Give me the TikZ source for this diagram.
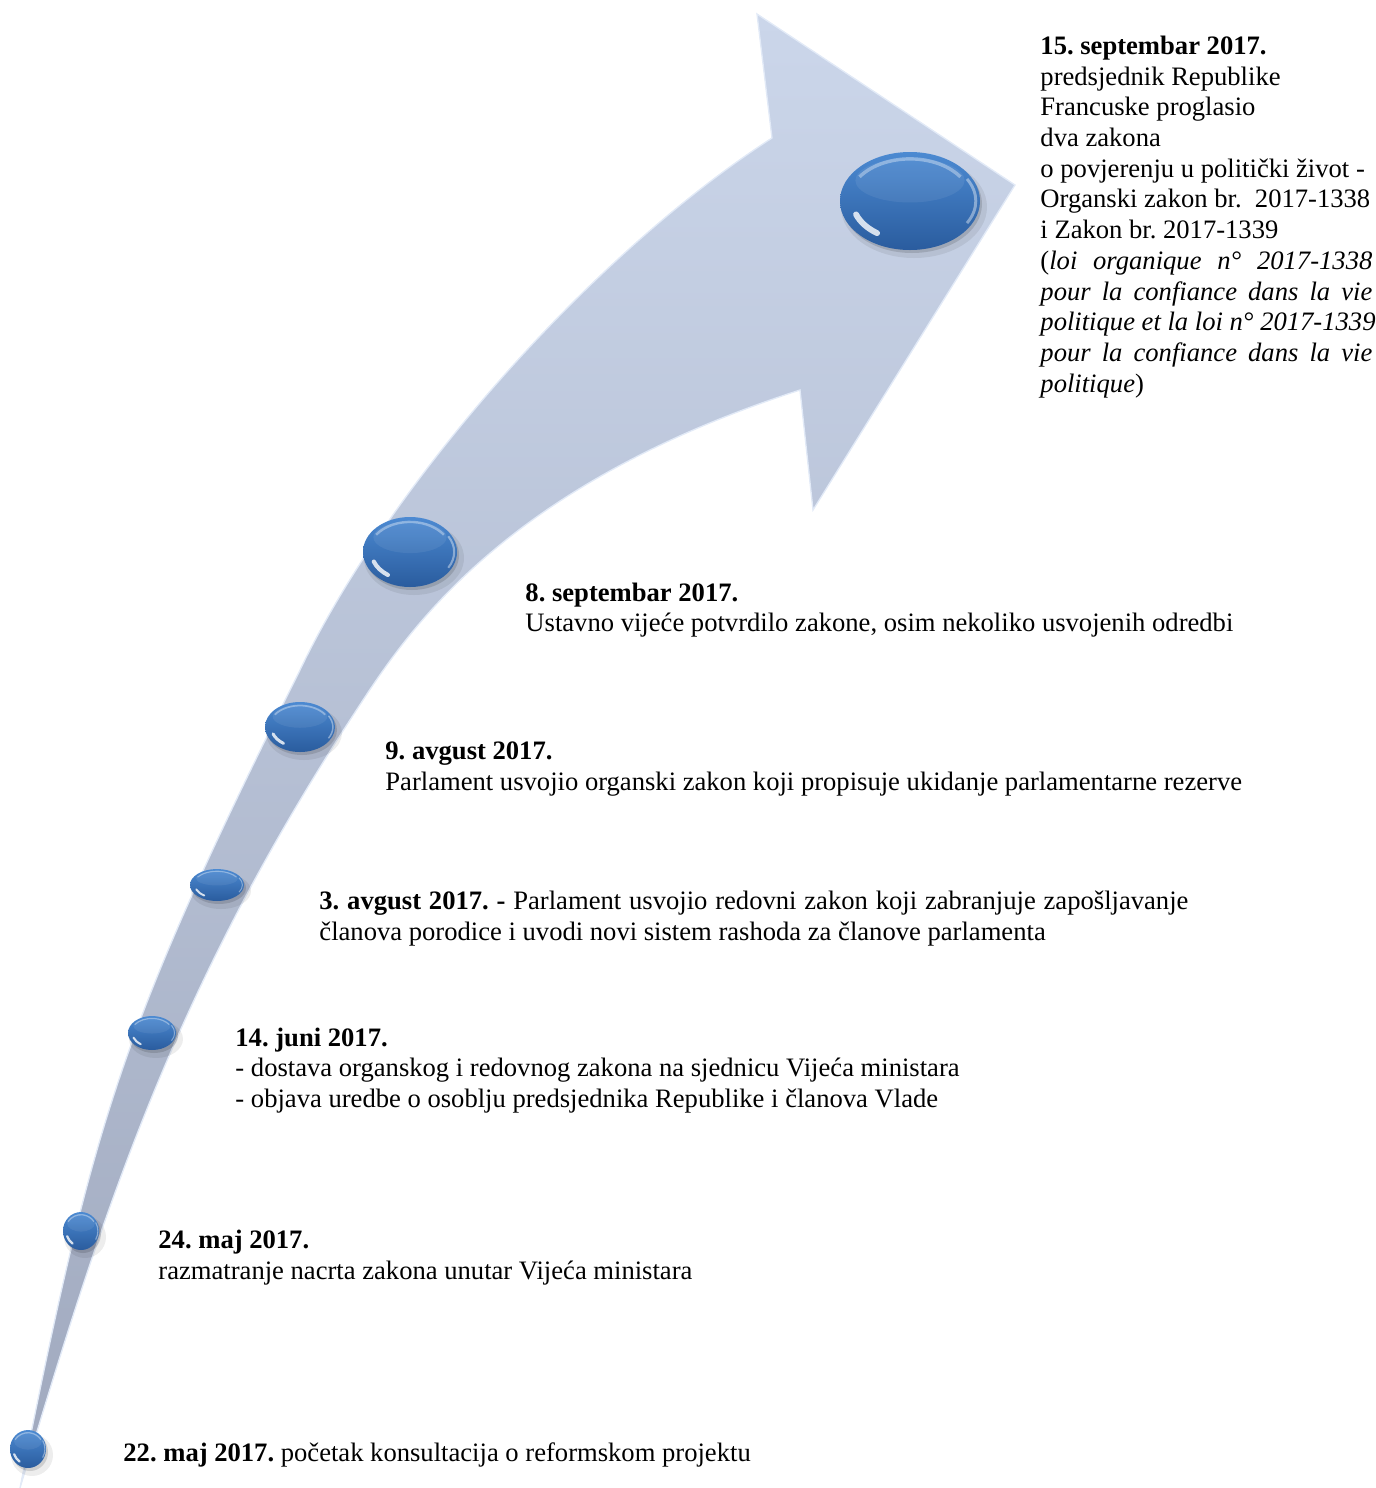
\documentclass[tikz,border=0pt]{standalone}
\usepackage{fontspec}
\setmainfont{Liberation Serif}
\usetikzlibrary{calc}
\frenchspacing
\definecolor{shaftTop}{RGB}{203,214,234}
\definecolor{shaftBot}{RGB}{160,169,190}
\definecolor{ballTop}{RGB}{76,138,210}
\definecolor{ballBot}{RGB}{42,92,158}
\definecolor{rimcol}{RGB}{226,234,247}
\newcommand\glassball[5]{%
  \coordinate (#1) at (#2,#3);
  \fill[black,opacity=.07] ($(#1)+(4,6)$) ellipse [x radius=#4+3, y radius=#5+2];
  \fill[black,opacity=.13] ($(#1)+(2,3)$) ellipse [x radius=#4, y radius=#5];
  \shade[top color=ballTop,bottom color=ballBot] (#1) ellipse [x radius=#4, y radius=#5];
  \fill[white,opacity=.07] ($(#1)+(0,-0.42*#5)$) ellipse [x radius=0.78*#4, y radius=0.45*#5];
  \draw[white,opacity=.35,line width={0.07*#5*0.451pt}]
    ($(#1)+(215:{0.88*#4} and {0.86*#5})$) arc [start angle=215,end angle=325,x radius=0.88*#4,y radius=0.86*#5];
  \draw[white,opacity=.8,line width={0.12*#5*0.451pt},line cap=round]
    ($(#1)+(125:{0.82*#4} and {0.80*#5})$) arc [start angle=125,end angle=160,x radius=0.82*#4,y radius=0.80*#5];
  \draw[white,opacity=.4,line width={0.06*#5*0.451pt}]
    ($(#1)+(-30:{0.94*#4} and {0.9*#5})$) arc [start angle=-30,end angle=30,x radius=0.94*#4,y radius=0.9*#5];
}
\tikzset{
  txt/.style={anchor=base west, inner sep=0pt, font=\fontsize{12pt}{14pt}\selectfont},
  shaft/.style={top color=shaftTop, bottom color=shaftBot, draw=rimcol, line width=0.6pt},
}
\begin{document}
\begin{tikzpicture}[x=0.451pt,y=-0.451pt]
\useasboundingbox (0,0) rectangle (1376,1488);
% curved arrow
\path[shaft] (20,1488) .. controls (93,1124) and (118,1034) .. (300,670)
  .. controls (386,490) and (586,258) .. (772,138)
  -- (757,14) -- (1015,185) -- (813,510) -- (800,390)
  .. controls (490,490) and (399,645) .. (350,720)
  .. controls (172,994) and (102,1214) .. (20,1488) -- cycle;
% balls
\glassball{b1}{910}{201}{70}{49}
\glassball{b2}{410}{552}{47}{35}
\glassball{b3}{300}{727}{35}{25}
\glassball{b4}{217}{885}{27}{16}
\glassball{b5}{152}{1033}{24}{17}
\glassball{b6}{81}{1231}{18}{19}
\glassball{b7}{28}{1449}{18}{19}
% texts
\node[txt] (s1) at (1040,54) {\textbf{15. septembar 2017.}};
\node[txt] (s2) at (1040,85) {predsjednik Republike};
\node[txt] (s3) at (1040,115) {Francuske proglasio};
\node[txt] (s4) at (1040,146) {dva zakona};
\node[txt] (s5) at (1040,177) {o povjerenju u politički život -};
\node[txt] (s6) at (1040,207) {Organski zakon br.\ \ 2017-1338};
\node[txt] (s7) at (1040,238) {i Zakon br. 2017-1339};
\node[txt] (s8) at (1040,269) {\makebox[149.7pt][s]{(\textit{loi organique n° 2017-1338}}};
\node[txt] (s9) at (1040,300) {\makebox[149.7pt][s]{\textit{pour la confiance dans la vie}}};
\node[txt] (s10) at (1040,330) {\textit{politique et la loi n° 2017-1339}};
\node[txt] (s11) at (1040,361) {\makebox[149.7pt][s]{\textit{pour la confiance dans la vie}}};
\node[txt] (s12) at (1040,392) {\textit{politique})};
\node[txt] (e1) at (525,601) {\textbf{8. septembar 2017.}};
\node[txt] (e2) at (525,631) {Ustavno vijeće potvrdilo zakone, osim nekoliko usvojenih odredbi};
\node[txt] (a1) at (385,759) {\textbf{9. avgust 2017.}};
\node[txt] (a2) at (385,790) {Parlament usvojio organski zakon koji propisuje ukidanje parlamentarne rezerve};
\node[txt] (c1) at (319,909) {\makebox[391.9pt][s]{\textbf{3. avgust 2017. -} Parlament usvojio redovni zakon koji zabranjuje zapošljavanje}};
\node[txt] (c2) at (319,940) {članova porodice i uvodi novi sistem rashoda za članove parlamenta};
\node[txt] (j1) at (235,1046) {\textbf{14. juni 2017.}};
\node[txt] (j2) at (235,1076) {- dostava organskog i redovnog zakona na sjednicu Vijeća ministara};
\node[txt] (j3) at (235,1107) {- objava uredbe o osoblju predsjednika Republike i članova Vlade};
\node[txt] (m1) at (158,1248) {\textbf{24. maj 2017.}};
\node[txt] (m2) at (158,1279) {razmatranje nacrta zakona unutar Vijeća ministara};
\node[txt] (k1) at (123,1461) {\textbf{22. maj 2017.} početak konsultacija o reformskom projektu};
\end{tikzpicture}
\end{document}
